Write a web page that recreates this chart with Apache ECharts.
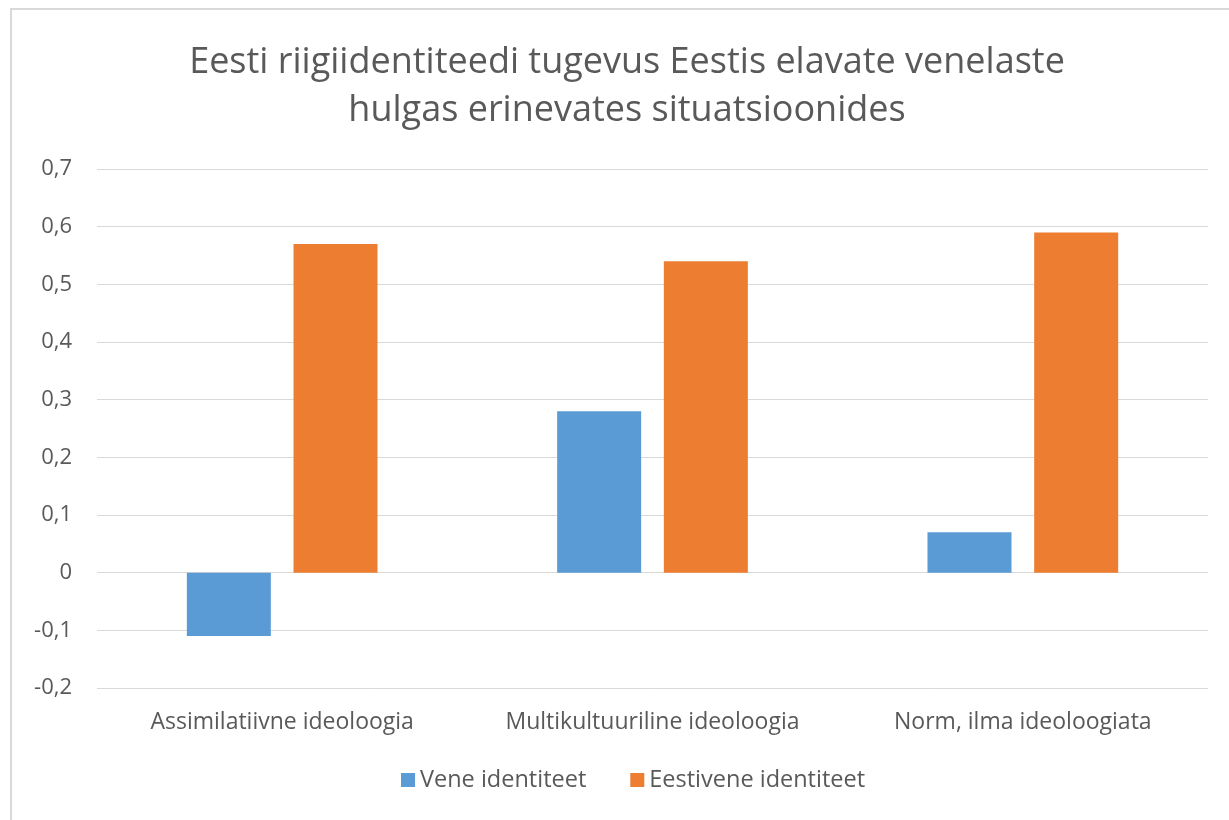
<!DOCTYPE html>
<html>
<head>
<meta charset="utf-8">
<script src="https://cdn.jsdelivr.net/npm/echarts@6/dist/echarts.min.js"></script>
<style>
  html, body { margin: 0; padding: 0; background: #fff; }
  #chart { width: 1229px; height: 820px; }
</style>
</head>
<body>
<div id="chart"></div>
<script>
const titleText = 'Eesti riigiidentiteedi tugevus Eestis elavate venelaste\nhulgas erinevates situatsioonides'
const categories = ['Assimilatiivne ideoloogia', 'Multikultuuriline ideoloogia', 'Norm, ilma ideoloogiata']
const seriesNames = ['Vene identiteet', 'Eestivene identiteet']
const veneValues = [-0.11, 0.28, 0.07]
const eestiveneValues = [0.57, 0.54, 0.59]
const colors = ['#5b9bd5', '#ed7d31']

const chart = echarts.init(document.getElementById('chart'))
const font = '"Open Sans", Lato, sans-serif'

chart.setOption({
  animation: false,
  textStyle: { fontFamily: font },
  graphic: [{
    type: 'rect',
    shape: { x: 11, y: 9, width: 1240, height: 830 },
    style: { fill: 'none', stroke: '#d9d9d9', lineWidth: 2 },
    silent: true
  }],
  title: {
    text: titleText,
    left: 622,
    textAlign: 'center',
    top: 34,
    textStyle: {
      fontFamily: font,
      fontSize: 36,
      fontWeight: 'normal',
      color: '#595959',
      lineHeight: 48
    }
  },
  legend: {
    data: seriesNames,
    bottom: 23,
    left: 396,
    itemWidth: 14,
    itemHeight: 14,
    itemGap: 44,
    icon: 'rect',
    textStyle: { fontFamily: font, fontSize: 23.5, color: '#595959' }
  },
  grid: { left: 97, right: 21, top: 169, bottom: 132, containLabel: false },
  xAxis: {
    type: 'category',
    data: categories,
    axisLine: { show: false },
    axisTick: { show: false },
    axisLabel: { fontFamily: font, fontSize: 23, color: '#595959', margin: 23, interval: 0 }
  },
  yAxis: {
    type: 'value',
    min: -0.2,
    max: 0.7,
    interval: 0.1,
    axisLine: { show: false },
    axisTick: { show: false },
    splitLine: { lineStyle: { color: '#d9d9d9', width: 1 } },
    axisLabel: {
      fontFamily: font,
      fontSize: 22,
      color: '#595959',
      margin: 25,
      formatter: v => String(Math.round(v * 10) / 10).replace('.', ',')
    }
  },
  series: [
    {
      name: seriesNames[0],
      type: 'bar',
      data: veneValues,
      barWidth: 84,
      barGap: '27%',
      itemStyle: { color: colors[0] }
    },
    {
      name: seriesNames[1],
      type: 'bar',
      data: eestiveneValues,
      barWidth: 84,
      barGap: '27%',
      itemStyle: { color: colors[1] }
    }
  ]
})
</script>
</body>
</html>
